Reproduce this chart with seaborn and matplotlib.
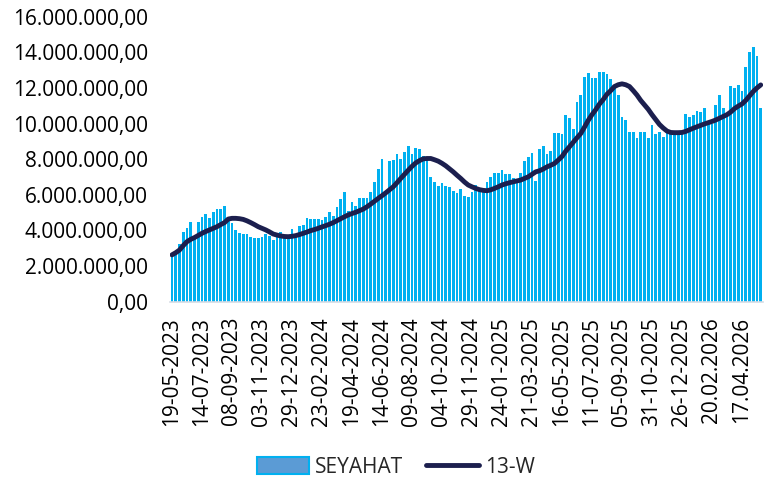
import numpy as np
import pandas as pd
import matplotlib.pyplot as plt
import seaborn as sns
from matplotlib.patches import Patch
from matplotlib.lines import Line2D
from matplotlib.ticker import FuncFormatter, MultipleLocator

# ─── DATA (milyon) ───────────────────────────────────────────────────────────
seyahat_m = [
    2.63, 2.80, 3.24, 3.92, 4.14, 4.48, 3.70, 4.48, 4.75, 4.92,
    4.70, 5.03, 5.20, 5.20, 5.37, 4.60, 4.40, 4.00, 3.85, 3.78,
    3.80, 3.65, 3.58, 3.55, 3.65, 3.80, 3.70, 3.45, 3.80, 3.90,
    3.65, 3.65, 4.10, 3.65, 4.25, 4.30, 4.70, 4.65, 4.65, 4.65,
    4.58, 4.77, 5.03, 4.81, 5.30, 5.75, 6.15, 5.10, 5.60, 5.37,
    5.83, 5.83, 5.83, 6.15, 6.73, 7.43, 8.00, 6.17, 7.90, 7.95,
    8.27, 8.00, 8.38, 8.73, 8.27, 8.65, 8.60, 8.17, 8.13, 7.00,
    6.73, 6.49, 6.64, 6.50, 6.45, 6.23, 6.10, 6.30, 5.93, 5.90,
    6.15, 6.55, 6.30, 6.20, 6.70, 7.00, 7.20, 7.25, 7.40, 7.15,
    7.15, 6.95, 6.90, 7.25, 7.90, 8.15, 8.35, 6.80, 8.55, 8.75,
    8.30, 8.45, 9.45, 9.45, 9.40, 10.50, 10.30, 9.70, 11.20, 11.60,
    12.60, 12.85, 12.55, 12.55, 12.90, 12.90, 12.80, 12.50, 12.10, 11.60,
    10.35, 10.20, 9.50, 9.50, 9.20, 9.55, 9.50, 9.20, 9.90, 9.40,
    9.50, 9.25, 9.50, 9.45, 9.50, 9.50, 9.55, 10.55, 10.35, 10.50,
    10.70, 10.65, 10.85, 10.00, 10.00, 11.05, 11.60, 10.85, 10.60, 12.10,
    12.00, 12.15, 11.85, 13.15, 14.00, 14.30, 13.80, 10.90,
]

w13_m = [
    2.63, 2.75, 2.90, 3.15, 3.37, 3.50, 3.60, 3.72, 3.84, 3.94,
    4.03, 4.12, 4.21, 4.33, 4.44, 4.64, 4.68, 4.68, 4.66, 4.62,
    4.54, 4.44, 4.33, 4.21, 4.12, 4.03, 3.92, 3.80, 3.74, 3.69,
    3.66, 3.65, 3.67, 3.71, 3.77, 3.84, 3.91, 3.99, 4.05, 4.12,
    4.20, 4.27, 4.35, 4.44, 4.55, 4.66, 4.77, 4.87, 4.95, 5.02,
    5.11, 5.20, 5.33, 5.48, 5.64, 5.80, 5.95, 6.11, 6.28, 6.45,
    6.68, 6.92, 7.15, 7.38, 7.60, 7.79, 7.92, 8.02, 8.04, 8.04,
    7.97, 7.89, 7.77, 7.63, 7.46, 7.29, 7.10, 6.92, 6.72, 6.55,
    6.45, 6.36, 6.29, 6.25, 6.23, 6.28, 6.36, 6.45, 6.55, 6.62,
    6.68, 6.73, 6.78, 6.83, 6.92, 7.01, 7.15, 7.29, 7.35, 7.45,
    7.57, 7.66, 7.76, 7.95, 8.15, 8.45, 8.70, 8.95, 9.20, 9.44,
    9.80, 10.18, 10.50, 10.78, 11.10, 11.35, 11.65, 11.85, 12.08, 12.18,
    12.23, 12.18, 12.08, 11.85, 11.60, 11.30, 11.05, 10.80, 10.50, 10.22,
    9.95, 9.75, 9.58, 9.50, 9.49, 9.49, 9.50, 9.56, 9.65, 9.74,
    9.82, 9.90, 9.98, 10.05, 10.12, 10.20, 10.30, 10.40, 10.50, 10.65,
    10.84, 10.98, 11.10, 11.30, 11.55, 11.80, 12.00, 12.17,
]

tick_labels = [
    "19-05-2023", "14-07-2023", "08-09-2023", "03-11-2023", "29-12-2023",
    "23-02-2024", "19-04-2024", "14-06-2024", "09-08-2024", "04-10-2024",
    "29-11-2024", "24-01-2025", "21-03-2025", "16-05-2025", "11-07-2025",
    "05-09-2025", "31-10-2025", "26-12-2025", "20.02.2026", "17.04.2026",
]

# ─── RENK ────────────────────────────────────────────────────────────────────
BAR = "#00B0F0"
BAR_FILL = "#5B9BD5"
NAVY = "#1C1F4E"

weeks = pd.date_range("2023-05-19", periods=len(seyahat_m), freq="7D").strftime("%d-%m-%Y")
df = pd.DataFrame({
    "hafta": weeks,
    "SEYAHAT": np.array(seyahat_m) * 1e6,
    "13-W": np.array(w13_m) * 1e6,
})
n = len(df)

sns.set_style("white")
plt.rcParams["font.family"] = ["Open Sans", "DejaVu Sans"]

fig = plt.figure(figsize=(7.7, 4.86), dpi=100)
ax = fig.add_axes([170.1 / 770, (486 - 301.7) / 486, 592.5 / 770, 285 / 486])

sns.barplot(data=df, x="hafta", y="SEYAHAT", color=BAR, saturation=1,
            width=0.73, linewidth=0, ax=ax)
sns.lineplot(x=df.index, y=df["13-W"], color=NAVY, linewidth=3.5, ax=ax)

ax.set_xlim(-0.5, n - 0.5)
ax.set_ylim(0, 16e6)
ax.yaxis.set_major_locator(MultipleLocator(2e6))
ax.yaxis.set_major_formatter(FuncFormatter(
    lambda v, _: f"{v:,.2f}".replace(",", "X").replace(".", ",").replace("X", ".")))
ax.set_xticks(range(0, n, 8)[:len(tick_labels)])
ax.set_xticklabels(tick_labels, rotation=90)
ax.set_xlabel("")
ax.set_ylabel("")

for s in ["top", "right", "left"]:
    ax.spines[s].set_visible(False)
ax.spines["bottom"].set_color("#D6DCE4")
ax.spines["bottom"].set_linewidth(1.2)
ax.tick_params(axis="both", length=0, labelsize=15, colors="black")
ax.tick_params(axis="x", pad=11)
ax.tick_params(axis="y", pad=16)

handles = [Patch(facecolor=BAR_FILL, edgecolor=BAR, linewidth=1.5),
           Line2D([], [], color=NAVY, linewidth=3.5)]
fig.legend(handles, ["SEYAHAT", "13-W"], loc="center",
           bbox_to_anchor=(0.514, 0.039), ncol=2, frameon=False, fontsize=15,
           handlelength=2.5, handleheight=0.9, handletextpad=0.3,
           columnspacing=1.1)

fig.savefig("out.png", dpi=100)
